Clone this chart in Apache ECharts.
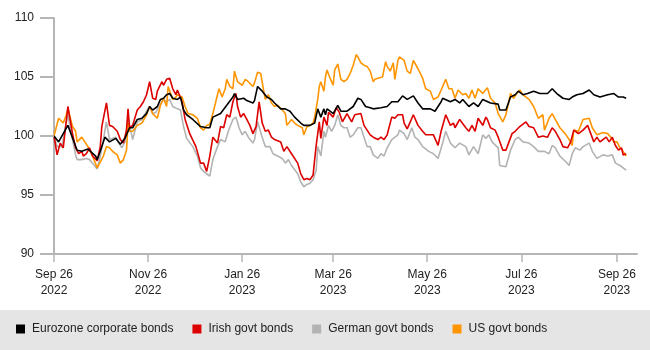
<!DOCTYPE html>
<html>
<head>
<meta charset="utf-8">
<style>
html, body { margin: 0; padding: 0; background: #fff; }
#chart { width: 650px; height: 350px; }
</style>
<script src="https://cdn.jsdelivr.net/npm/echarts@6/dist/echarts.min.js"></script>
</head>
<body>
<div id="chart"></div>
<script>
// x = days since Sep 26 2022, y = index (Sep 26 2022 = 100)
var tickDays = [0, 61, 122, 181, 242, 303, 365];
var tickLabels = ['Sep 26\n2022', 'Nov 26\n2022', 'Jan 26\n2023', 'Mar 26\n2023', 'May 26\n2023', 'Jul 26\n2023', 'Sep 26\n2023'];
var yTicks = [90, 95, 100, 105, 110];
var seriesNames = ['Eurozone corporate bonds', 'Irish govt bonds', 'German govt bonds', 'US govt bonds'];

var eurozoneCorp = [[0,100],[3,99.5],[9,100.9],[15,98.8],[18,98.7],[22,98.9],[27,98.3],[28,98.0],[30,98.7],[33,99.9],[36,99.5],[40,99.8],[43,99.3],[46,99.8],[49,100.7],[51,100.7],[54,101.4],[57,101.5],[60,101.9],[62,102.5],[64,102.2],[67,102.5],[69,103.1],[71,103.2],[73,103.5],[75,103.6],[77,103.2],[80,103.1],[82,103.3],[84,102.2],[86,101.8],[90,101.4],[95,100.8],[99,100.7],[101,100.7],[103,101.6],[108,101.9],[112,102.6],[116,103.3],[117,103.6],[119,103.1],[123,103.2],[125,103.0],[129,102.8],[130,103.0],[132,104.2],[135,103.8],[138,103.3],[141,103.1],[143,102.8],[147,102.3],[150,102.3],[153,102.1],[156,101.6],[160,101.1],[162,100.9],[166,100.9],[169,101.1],[171,102.3],[173,101.6],[175,102.3],[176,101.8],[177,102.3],[179,102.1],[181,101.9],[184,102.6],[186,102.1],[190,102.1],[194,102.5],[197,103.2],[199,103.1],[202,102.5],[205,102.4],[207,102.3],[212,102.4],[216,102.5],[219,102.9],[223,102.9],[226,103.4],[229,103.1],[233,103.4],[236,102.8],[239,102.3],[244,102.3],[247,102.1],[251,102.9],[252,103.2],[257,102.9],[260,103.1],[263,102.8],[265,103.1],[269,102.5],[272,102.8],[275,102.5],[278,103.1],[283,102.8],[288,102.7],[289,102.2],[293,102.2],[296,103.3],[299,103.5],[301,103.8],[304,103.5],[307,103.6],[311,103.8],[315,103.6],[320,103.6],[323,104.0],[326,103.6],[330,103.2],[334,103.1],[336,103.3],[339,103.5],[343,103.6],[347,103.9],[350,103.5],[354,103.3],[359,103.5],[363,103.6],[366,103.3],[369,103.3],[371,103.2]];

var irishGovt = [[0,100],[2,98.4],[4,99.4],[6,99.0],[9,102.5],[12,100.2],[14,99.0],[16,98.5],[18,98.7],[19,98.3],[21,98.5],[23,99.0],[25,98.3],[28,97.9],[30,99.1],[31,100.8],[34,102.8],[36,100.9],[38,100.8],[41,100.4],[43,99.7],[45,99.4],[47,100.5],[48,102.3],[49,100.7],[51,100.9],[54,102.2],[56,102.5],[58,102.9],[60,103.5],[62,104.6],[64,103.2],[66,103.1],[67,103.8],[70,104.6],[71,104.3],[73,104.8],[75,104.9],[77,104.0],[79,103.5],[80,103.9],[83,102.9],[85,101.4],[88,100.2],[92,99.1],[95,97.7],[97,97.7],[99,97.0],[101,98.3],[103,99.9],[106,99.4],[108,100.8],[110,100.7],[112,101.8],[114,101.6],[116,102.9],[118,103.6],[119,102.5],[121,101.6],[123,101.9],[125,101.4],[127,100.9],[129,100.2],[131,100.8],[133,102.9],[135,101.1],[137,100.4],[139,100.5],[141,99.9],[143,99.7],[147,99.5],[149,98.7],[151,99.1],[154,98.5],[158,97.7],[160,96.8],[162,96.3],[164,96.4],[166,96.3],[168,96.7],[169,98.0],[170,99.2],[172,101.2],[173,99.8],[175,101.6],[177,100.9],[178,102.0],[181,101.6],[183,102.4],[185,102.0],[187,101.2],[190,101.9],[193,101.2],[195,101.8],[199,101.9],[201,100.9],[203,100.5],[205,100.1],[207,99.9],[210,99.7],[212,99.9],[214,99.7],[216,100.1],[219,101.6],[221,101.5],[223,101.8],[226,101.8],[227,101.1],[229,100.6],[231,101.2],[233,101.8],[236,100.9],[239,100.4],[241,100.1],[244,100.1],[246,100.1],[249,99.2],[251,100.4],[254,101.8],[257,100.9],[259,101.1],[260,100.7],[263,101.4],[267,100.7],[269,100.4],[271,100.9],[273,100.4],[275,101.5],[278,100.9],[280,101.6],[281,101.4],[283,100.7],[286,100.5],[288,99.9],[291,98.8],[293,98.8],[295,99.5],[297,100.2],[299,100.4],[302,100.8],[306,101.2],[308,100.8],[311,100.7],[314,99.9],[317,100.0],[320,99.9],[323,100.7],[325,100.4],[328,99.7],[330,99.1],[333,99.0],[335,99.5],[337,100.5],[340,100.2],[343,100.5],[346,100.9],[348,100.2],[350,99.5],[352,99.9],[354,99.5],[358,99.9],[360,99.5],[362,99.9],[364,99.2],[366,98.8],[368,99.0],[369,98.4],[371,98.5]];

var germanGovt = [[0,100],[2,99.1],[5,99.1],[9,101.8],[12,99.7],[14,98.4],[15,98.0],[18,98.0],[21,98.1],[23,98.0],[25,97.7],[28,97.2],[30,98.3],[32,99.7],[34,101.2],[36,99.7],[40,99.9],[42,99.4],[44,99.0],[46,99.5],[48,101.5],[51,99.7],[54,101.2],[57,101.4],[60,102.1],[62,102.5],[64,101.9],[66,102.0],[68,102.5],[71,103.1],[73,102.9],[75,103.1],[77,102.5],[80,102.3],[82,102.2],[84,100.8],[86,99.8],[90,99.1],[93,98.3],[95,97.3],[97,97.0],[99,96.8],[101,96.6],[103,98.0],[106,99.1],[108,99.7],[111,99.5],[113,100.4],[116,101.4],[118,101.6],[120,100.7],[122,100.1],[124,100.4],[126,99.9],[129,99.4],[130,99.7],[132,101.2],[135,99.9],[137,99.1],[140,99.1],[142,98.5],[145,98.3],[148,98.1],[150,97.7],[152,98.0],[154,97.5],[158,96.8],[160,96.1],[162,95.7],[164,95.9],[166,96.0],[168,96.3],[170,97.1],[171,99.1],[173,98.3],[175,100.4],[176,99.9],[178,100.9],[180,100.4],[182,100.9],[184,101.8],[186,100.9],[188,100.7],[190,100.7],[192,99.9],[194,100.1],[197,100.7],[199,100.7],[201,99.9],[203,99.1],[205,99.1],[207,98.4],[210,98.1],[212,98.5],[214,98.3],[216,99.0],[219,99.7],[223,100.1],[224,100.5],[227,100.2],[229,99.7],[232,100.7],[234,99.9],[236,99.7],[239,99.1],[243,98.7],[246,98.5],[249,98.1],[252,99.4],[254,100.4],[257,99.4],[260,99.0],[263,99.4],[267,99.1],[269,98.4],[272,99.1],[275,98.5],[278,100.1],[280,99.8],[282,100.1],[284,99.5],[288,99.0],[289,97.5],[293,97.4],[296,98.8],[299,99.7],[301,99.9],[304,99.5],[308,99.4],[311,99.1],[314,98.7],[318,98.7],[321,98.5],[323,99.2],[325,99.0],[328,98.3],[332,97.8],[334,97.5],[336,98.5],[338,99.0],[341,98.8],[343,99.1],[347,99.4],[349,98.7],[352,98.1],[356,98.4],[359,98.3],[362,98.4],[364,97.7],[367,97.5],[369,97.3],[371,97.1]];

var usGovt = [[0,100],[1,100.1],[3,101.5],[6,101.1],[8,101.8],[9,102.3],[12,100.8],[14,100.4],[15,99.5],[18,99.9],[20,99.5],[22,99.1],[23,99.2],[25,98.3],[28,97.3],[29,97.4],[32,98.3],[34,99.1],[36,99.0],[38,98.7],[41,98.4],[43,97.7],[45,98.0],[47,98.8],[48,101.1],[49,100.4],[51,100.4],[54,100.9],[57,101.1],[60,101.8],[62,102.5],[64,101.9],[67,101.5],[69,102.6],[71,103.2],[73,102.5],[74,104.2],[77,103.1],[79,103.3],[80,103.5],[83,103.3],[85,102.5],[87,101.9],[90,101.8],[93,101.5],[95,100.7],[97,100.5],[99,100.9],[101,101.0],[103,101.9],[106,103.5],[107,104.0],[109,103.3],[111,104.0],[112,104.8],[114,104.2],[116,104.0],[117,105.5],[119,104.6],[122,104.3],[124,104.8],[126,104.6],[129,104.2],[130,104.5],[132,105.4],[134,105.3],[136,103.8],[137,103.1],[139,103.5],[141,102.8],[143,102.5],[145,102.6],[148,102.2],[150,101.9],[151,100.9],[154,101.4],[156,101.1],[158,100.9],[161,100.7],[162,100.1],[164,100.8],[166,100.9],[168,101.1],[169,101.6],[171,103.1],[172,104.2],[173,104.6],[175,103.8],[176,105.0],[177,105.6],[179,104.9],[181,104.3],[182,105.6],[184,106.1],[186,104.8],[188,104.6],[190,104.8],[192,105.3],[194,106.0],[196,106.9],[197,106.7],[199,106.2],[201,106.0],[203,105.9],[205,105.5],[207,104.6],[208,104.8],[210,104.9],[213,105.0],[215,106.3],[216,105.9],[218,105.5],[220,106.2],[221,104.8],[223,106.4],[224,106.7],[227,106.4],[229,105.5],[231,105.3],[233,106.4],[236,105.7],[239,104.9],[241,104.0],[244,103.8],[246,103.1],[249,103.3],[251,103.9],[254,104.8],[256,104.0],[258,104.0],[260,103.2],[262,103.9],[265,103.5],[267,103.6],[269,103.2],[271,103.9],[273,103.2],[275,104.0],[278,103.6],[281,104.1],[283,103.2],[286,102.8],[288,101.9],[291,101.2],[293,101.8],[296,103.6],[298,103.2],[300,103.6],[302,103.9],[304,103.5],[308,103.1],[311,102.5],[314,101.5],[317,101.8],[318,100.5],[321,101.5],[323,101.9],[325,101.4],[328,100.7],[332,100.1],[334,99.7],[336,99.2],[337,100.5],[340,100.4],[343,101.4],[347,101.5],[349,100.7],[352,100.1],[356,100.3],[359,100.2],[361,99.9],[363,99.5],[365,99.5],[367,99.0],[369,98.7],[371,98.3]];

var myChart = echarts.init(document.getElementById('chart'), null, { renderer: 'canvas' });

function lineSeries(name, data, color) {
    return {
        name: name,
        type: 'line',
        data: data,
        showSymbol: false,
        symbol: 'none',
        lineStyle: { color: color, width: 1.6 },
        itemStyle: { color: color },
        emphasis: { disabled: true }
    };
}

var option = {
    animation: false,
    textStyle: { fontFamily: 'Liberation Sans, Arial, sans-serif' },
    legend: {
        data: seriesNames,
        left: 16,
        top: 323,
        padding: 0,
        icon: 'rect',
        itemWidth: 9,
        itemHeight: 9,
        itemGap: 19,
        textStyle: { fontSize: 12, color: '#222', padding: [0, 0, 0, 2] }
    },
    grid: { left: 54, right: 13, top: 18, bottom: 96 },
    xAxis: {
        type: 'value',
        min: 0,
        max: 378,
        axisLine: { show: true, onZero: false, lineStyle: { color: '#b5b5b5', width: 2 } },
        axisTick: { show: true, customValues: tickDays, length: 8, lineStyle: { color: '#b5b5b5', width: 1.5 } },
        axisLabel: {
            customValues: tickDays,
            formatter: function (v) { return tickLabels[tickDays.indexOf(v)] || ''; },
            fontSize: 12,
            color: '#222',
            lineHeight: 16,
            margin: 13
        },
        splitLine: { show: false }
    },
    yAxis: {
        type: 'value',
        min: 90,
        max: 110,
        interval: 5,
        axisLine: { show: true, lineStyle: { color: '#b5b5b5', width: 2 } },
        axisTick: { show: false },
        axisLabel: { fontSize: 12, color: '#222', margin: 20 },
        splitLine: { show: false }
    },
    series: [
        lineSeries('German govt bonds', germanGovt, '#b3b3b3'),
        lineSeries('US govt bonds', usGovt, '#ff9500'),
        lineSeries('Irish govt bonds', irishGovt, '#dd0000'),
        lineSeries('Eurozone corporate bonds', eurozoneCorp, '#000000')
    ]
};
myChart.setOption(option);

// legend band plus y-axis ticks placed through the axis scales
var axisX = myChart.convertToPixel({ xAxisIndex: 0 }, 0);
var extras = [{
    type: 'rect',
    left: 0,
    top: 310,
    z: -10,
    shape: { width: 650, height: 40 },
    style: { fill: '#e5e5e5' }
}];
yTicks.forEach(function (v) {
    var py = Math.round(myChart.convertToPixel({ yAxisIndex: 0 }, v));
    extras.push({
        type: 'line',
        z: 5,
        shape: { x1: axisX - 14, y1: py, x2: axisX, y2: py },
        style: { stroke: '#b5b5b5', lineWidth: 2 }
    });
});
myChart.setOption({ graphic: extras });
</script>
</body>
</html>
